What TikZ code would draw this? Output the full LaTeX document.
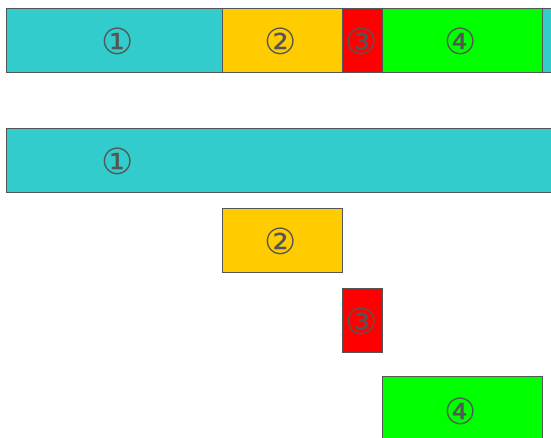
\documentclass[tikz,border=0pt]{standalone}
\usepackage{fontspec}
\newfontfamily\circfont{DejaVu Sans}
\definecolor{cyanc}{HTML}{33CCCC}
\definecolor{yelc}{HTML}{FFCC00}
\definecolor{redc}{HTML}{FF0000}
\definecolor{grnc}{HTML}{00FF00}
\definecolor{edgec}{HTML}{555555}
\begin{document}
\begin{tikzpicture}[x=1pt,y=-1pt,
  seg/.style={draw=edgec,line width=1pt,inner sep=0pt,outer sep=0pt,anchor=north west},
  lbl/.style={text=edgec,inner sep=0pt,font=\circfont\fontsize{36}{36}\selectfont}]
\useasboundingbox (0,0) rectangle (551,437);
\clip (0,0) rectangle (551,437);
% top bar
\node[seg,fill=cyanc,minimum width=216pt,minimum height=64pt] (a1) at (6,8) {};
\node[seg,fill=yelc,minimum width=120pt,minimum height=64pt] (a2) at (222,8) {};
\node[seg,fill=redc,minimum width=40pt,minimum height=64pt] (a3) at (342,8) {};
\node[seg,fill=grnc,minimum width=160pt,minimum height=64pt] (a4) at (382,8) {};
\node[seg,fill=cyanc,minimum width=40pt,minimum height=64pt] (a5) at (542,8) {};
\node[lbl] (t1) at (118,41.5) {①};
\node[lbl] (t2) at (281,41.5) {②};
\node[lbl] (t3) at (362,41.5) {③};
\node[lbl] (t4) at (461,41.5) {④};
% separated rows
\node[seg,fill=cyanc,minimum width=560pt,minimum height=64pt] (b1) at (6,128) {};
\node[lbl] (u1) at (118,161.5) {①};
\node[seg,fill=yelc,minimum width=120pt,minimum height=64pt] (b2) at (222,208) {};
\node[lbl] (u2) at (281,241.5) {②};
\node[seg,fill=redc,minimum width=40pt,minimum height=64pt] (b3) at (342,288) {};
\node[lbl] (u3) at (362,321.5) {③};
\node[seg,fill=grnc,minimum width=160pt,minimum height=80pt] (b4) at (382,376) {};
\node[lbl] (u4) at (461,411.5) {④};
\end{tikzpicture}
\end{document}
